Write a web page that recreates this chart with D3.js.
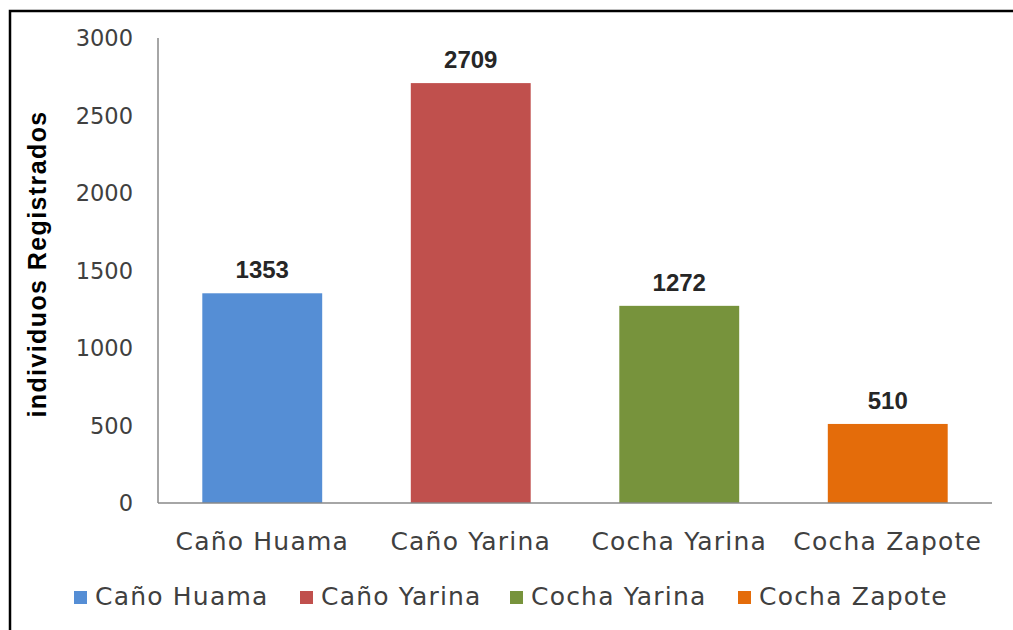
<!DOCTYPE html>
<html>
<head>
<meta charset="utf-8">
<script src="https://cdn.jsdelivr.net/npm/d3@7"></script>
<style>
  body { margin: 0; background: #fff; }
  svg { display: block; }
</style>
</head>
<body>
<div id="chart"></div>
<script>
var sites = ["Caño Huama", "Caño Yarina", "Cocha Yarina", "Cocha Zapote"];
var counts = [1353, 2709, 1272, 510];
var barColors = ["#558ED5", "#C0504D", "#77933C", "#E46C0A"];
var yTicks = [0, 500, 1000, 1500, 2000, 2500, 3000];

var width = 1013, height = 630;

var svg = d3.select("#chart")
  .append("svg")
  .attr("width", width)
  .attr("height", height);

// frame around the chart (top and left edges visible)
svg.append("path")
  .attr("d", "M10,630 L10,11 L1013,11")
  .attr("fill", "none")
  .attr("stroke", "#000")
  .attr("stroke-width", 2.5);

var x = d3.scaleBand()
  .domain(sites)
  .range([158, 992])
  .paddingInner(0.425)
  .paddingOuter(0.2125);

var y = d3.scaleLinear()
  .domain([0, 3000])
  .range([503, 38]);

// y axis labels
svg.append("g")
  .selectAll("text")
  .data(yTicks)
  .enter()
  .append("text")
  .attr("x", 133)
  .attr("y", function(d){ return y(d); })
  .attr("dy", "0.36em")
  .attr("text-anchor", "end")
  .attr("font-family", "DejaVu Sans")
  .attr("font-size", 22.5)
  .attr("fill", "#404040")
  .text(function(d){ return d; });

// bars
svg.append("g")
  .selectAll("rect")
  .data(counts)
  .enter()
  .append("rect")
  .attr("x", function(d, i){ return x(sites[i]); })
  .attr("y", function(d){ return y(d); })
  .attr("width", x.bandwidth())
  .attr("height", function(d){ return y(0) - y(d); })
  .attr("fill", function(d, i){ return barColors[i]; });

// axis lines
svg.append("line")
  .attr("x1", 158).attr("x2", 158)
  .attr("y1", y(3000)).attr("y2", y(0))
  .attr("stroke", "#888").attr("stroke-width", 1.5);
svg.append("line")
  .attr("x1", 158).attr("x2", 992)
  .attr("y1", y(0)).attr("y2", y(0))
  .attr("stroke", "#888").attr("stroke-width", 1.5);

// value labels
svg.append("g")
  .selectAll("text")
  .data(counts)
  .enter()
  .append("text")
  .attr("x", function(d, i){ return x(sites[i]) + x.bandwidth() / 2; })
  .attr("y", function(d){ return y(d) - 15; })
  .attr("text-anchor", "middle")
  .attr("font-family", "Liberation Sans")
  .attr("font-weight", "bold")
  .attr("font-size", 24)
  .attr("fill", "#262626")
  .text(function(d){ return d; });

// category labels
svg.append("g")
  .selectAll("text")
  .data(sites)
  .enter()
  .append("text")
  .attr("x", function(d){ return x(d) + x.bandwidth() / 2; })
  .attr("y", 550)
  .attr("text-anchor", "middle")
  .attr("font-family", "DejaVu Sans")
  .attr("font-size", 25)
  .attr("letter-spacing", 1.2)
  .attr("fill", "#404040")
  .text(function(d){ return d; });

// y axis title
svg.append("text")
  .attr("transform", "translate(46,264) rotate(-90)")
  .attr("text-anchor", "middle")
  .attr("font-family", "Liberation Sans")
  .attr("font-weight", "bold")
  .attr("font-size", 25)
  .attr("letter-spacing", 1.4)
  .attr("fill", "#000")
  .text("individuos Registrados");

// legend
var legendX = [74, 300, 510, 738];
var legend = svg.append("g")
  .selectAll("g")
  .data(sites)
  .enter()
  .append("g")
  .attr("transform", function(d, i){ return "translate(" + legendX[i] + ",591)"; });

legend.append("rect")
  .attr("width", 13)
  .attr("height", 13)
  .attr("fill", function(d, i){ return barColors[i]; });

legend.append("text")
  .attr("x", 21)
  .attr("y", 14)
  .attr("font-family", "DejaVu Sans")
  .attr("font-size", 25)
  .attr("letter-spacing", 1.2)
  .attr("fill", "#404040")
  .text(function(d){ return d; });
</script>
</body>
</html>
